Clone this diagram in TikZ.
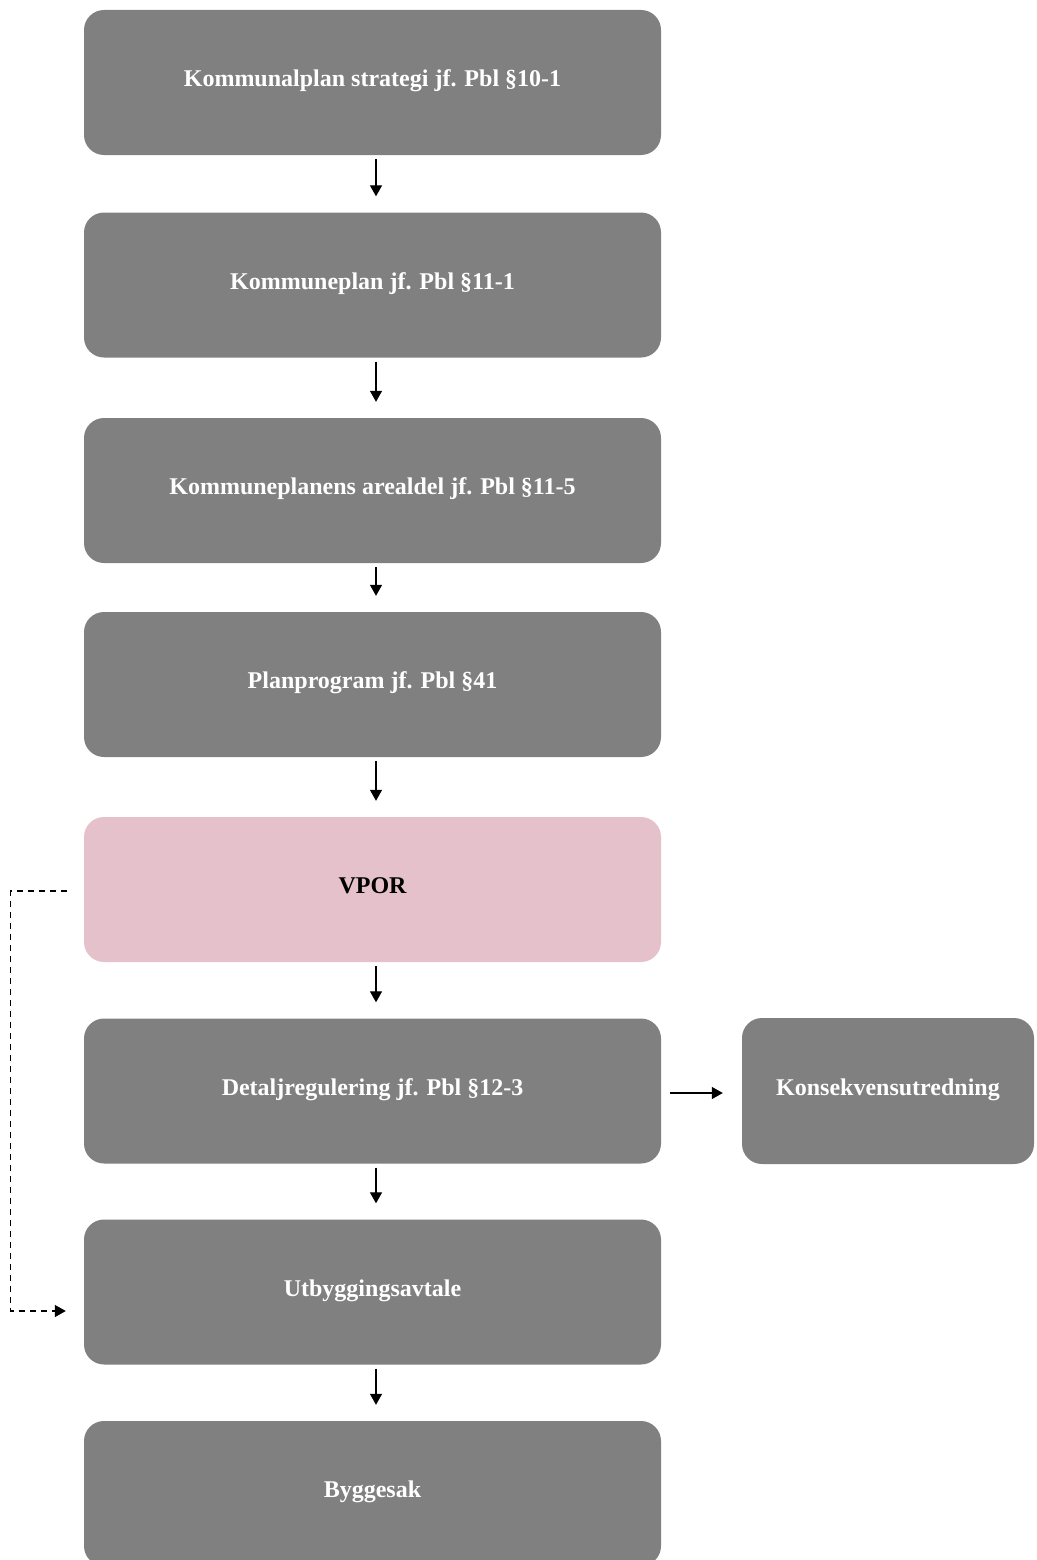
\documentclass[tikz,border=0pt]{standalone}
\usepackage{fontspec}
\setmainfont{Liberation Serif}
\usetikzlibrary{arrows.meta}
\definecolor{boxgray}{HTML}{808080}
\definecolor{boxpink}{HTML}{E5C1CB}
\begin{document}
\begin{tikzpicture}[x=1pt,y=-1pt,
  box/.style={rectangle, rounded corners=20pt, fill=boxgray, text=white,
    minimum width=577pt, minimum height=145pt, inner sep=0pt,
    text height=17pt, text depth=9pt,
    font=\fontsize{24}{28}\selectfont\bfseries},
  flow/.style={line width=1.3pt, -{Triangle[width=12pt,length=11pt]}},
  link/.style={line width=1.3pt, dash pattern=on 6pt off 5pt,
    -{Triangle[width=12pt,length=11pt]}}]
\useasboundingbox (0,0) rectangle (1036,1560);

\node[box] (k1) at (372.5,82.5)  {Kommunalplan strategi jf. Pbl §10-1};
\node[box] (k2) at (372.5,285)   {Kommuneplan jf. Pbl §11-1};
\node[box] (k3) at (372.5,490.5) {Kommuneplanens arealdel jf. Pbl §11-5};
\node[box] (k4) at (372.5,684.5) {Planprogram jf. Pbl §41};
\node[box, fill=boxpink, text=black] (vpor) at (372.5,889.5) {VPOR};
\node[box] (det) at (372.5,1091) {Detaljregulering jf. Pbl §12-3};
\node[box] (utb) at (372.5,1292) {Utbyggingsavtale};
\node[box] (byg) at (372.5,1493.5) {Byggesak};
\node[box, minimum width=292pt, minimum height=146pt] (ku) at (888,1091) {Konsekvensutredning};

% main chain
\foreach \a/\b in {k1/k2, k2/k3, k3/k4, k4/vpor, vpor/det, det/utb, utb/byg}
  \draw[flow] ([xshift=3.5pt,yshift=-4pt]\a.south) -- ([xshift=3.5pt,yshift=16pt]\b.north);

% side branch
\draw[flow] ([xshift=9pt,yshift=-2pt]det.east) -- ([xshift=-19pt,yshift=-2pt]ku.west);

% dashed return from VPOR to Utbyggingsavtale
\coordinate (dstart) at ([xshift=-17pt,yshift=-1.5pt]vpor.west);
\coordinate (dend) at ([xshift=-18pt,yshift=-19pt]utb.west);
\draw[link] (dstart) -- ++(-56,0) |- (dend);
\end{tikzpicture}
\end{document}
